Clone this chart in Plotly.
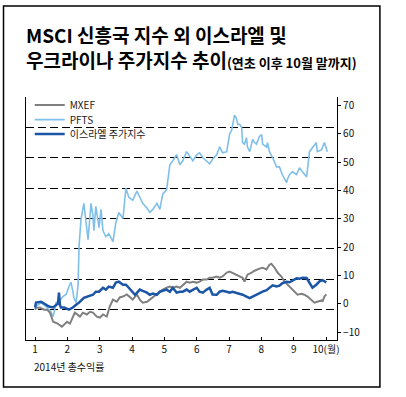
import plotly.graph_objects as go

# ---- data (x = month position, y = total return %) ----
pfts_m = [1.0, 1.03, 1.19, 1.34, 1.49, 1.56, 1.65, 1.77, 1.86, 1.96, 2.05, 2.11, 2.17, 2.20, 2.27, 2.33, 2.36, 2.42,
          2.51, 2.57, 2.64, 2.67, 2.73, 2.79, 2.82, 2.88, 2.94, 2.98, 3.04, 3.10, 3.19, 3.28, 3.41, 3.50, 3.59, 3.72,
          3.81, 3.90, 4.02, 4.12, 4.15, 4.24, 4.33, 4.46, 4.55, 4.64, 4.77, 4.86, 4.95, 5.07, 5.17, 5.26, 5.38, 5.48,
          5.57, 5.69, 5.78, 5.88, 6.00, 6.09, 6.19, 6.31, 6.40, 6.49, 6.62, 6.71, 6.80, 6.93, 7.02, 7.08, 7.17, 7.23,
          7.27, 7.33, 7.39, 7.42, 7.48, 7.54, 7.57, 7.64, 7.73, 7.79, 7.85, 7.94, 8.01, 8.04, 8.16, 8.19, 8.25, 8.35,
          8.47, 8.56, 8.65, 8.78, 8.81, 8.87, 8.96, 9.09, 9.18, 9.27, 9.40, 9.49, 9.58, 9.70, 9.73, 9.86, 9.95, 10.04]
pfts_v = [0, 1, 2.3, 1, -0.7, -2.3, 2.3, 3, 4.3, 5, 7.6, 9, 6, 4, 2.3, 8, 20.7, 29.6,
          35, 29.6, 23, 27, 35, 31, 26, 34, 30, 27, 33, 26, 24, 25, 22.4, 28.6, 32, 30,
          40, 37, 36, 38, 39, 37, 35, 33.5, 32, 33, 35, 33, 38, 39.5, 47.7, 49, 51, 47.7,
          49, 52, 50.5, 49, 51, 51.6, 50, 49, 48, 49.5, 51, 53.6, 51.6, 52, 58, 59, 64, 63,
          61, 61, 60, 55, 54.5, 56.6, 53.5, 52, 56, 55, 54.5, 57, 57.6, 54.5, 53.5, 55, 52, 50,
          47, 47, 44.4, 41.8, 43, 44.4, 45.4, 44.5, 46.7, 45.4, 43.7, 52, 53.3, 55, 52, 52.6, 55, 52]

mxef_m = [1.0, 1.03, 1.15, 1.28, 1.37, 1.46, 1.56, 1.68, 1.83, 1.99, 2.08, 2.23, 2.39, 2.48, 2.60, 2.70, 2.79, 2.91,
          3.01, 3.10, 3.22, 3.31, 3.41, 3.53, 3.62, 3.72, 3.84, 3.93, 4.02, 4.15, 4.24, 4.33, 4.46, 4.55, 4.64, 4.77,
          4.86, 4.95, 5.07, 5.17, 5.26, 5.38, 5.48, 5.57, 5.69, 5.78, 5.88, 6.00, 6.09, 6.19, 6.31, 6.40, 6.49, 6.62,
          6.71, 6.80, 6.93, 7.02, 7.11, 7.23, 7.33, 7.42, 7.48, 7.57, 7.70, 7.79, 7.94, 8.04, 8.16, 8.25, 8.31, 8.41,
          8.50, 8.62, 8.72, 8.81, 8.93, 9.02, 9.12, 9.24, 9.33, 9.43, 9.55, 9.64, 9.73, 9.86, 9.89, 9.95, 10.01]
mxef_v = [0, 0.5, 0.7, 0, 0, -1, -4, -4.5, -5.6, -4, -4.6, -1, -2.3, -1, -1.6, -0.7, -1, -2.3,
          -2.6, -1.6, -2.3, 1, 3.3, 2.6, 4, 4.3, 5, 4, 3.3, 5, 3.3, 2.3, 2.6, 3.3, 4, 5,
          5.6, 6.6, 7.2, 7.6, 7.2, 7.6, 7.2, 8.2, 9.2, 8.9, 9.2, 8.9, 9.2, 9.9, 9.9, 10.5, 10.5, 10.9,
          10.5, 10.9, 12.2, 12.5, 12, 11.5, 10.9, 10.5, 9.2, 11.5, 12.2, 12.8, 13.5, 13.8, 13.2, 14.8, 15.1, 13.8,
          12.2, 10.9, 9.2, 8.2, 7.2, 5.9, 4.9, 5.2, 4.9, 4.3, 3.3, 2.3, 2.6, 3, 2.6, 4.3, 5]

isr_m = [1.0, 1.03, 1.19, 1.28, 1.43, 1.56, 1.65, 1.71, 1.74, 1.77, 1.80, 1.90, 2.05, 2.17, 2.27, 2.36, 2.51, 2.67,
         2.79, 2.88, 2.98, 3.10, 3.19, 3.28, 3.41, 3.50, 3.59, 3.72, 3.81, 3.90, 4.02, 4.09, 4.15, 4.24, 4.33, 4.46,
         4.55, 4.64, 4.77, 4.86, 4.95, 5.07, 5.17, 5.26, 5.38, 5.48, 5.57, 5.69, 5.78, 5.88, 6.00, 6.09, 6.19, 6.31,
         6.40, 6.49, 6.62, 6.71, 6.80, 6.93, 7.02, 7.11, 7.23, 7.33, 7.42, 7.54, 7.64, 7.73, 7.85, 7.94, 8.04, 8.16,
         8.25, 8.35, 8.47, 8.56, 8.65, 8.78, 8.87, 8.96, 9.09, 9.18, 9.27, 9.40, 9.49, 9.58, 9.70, 9.80, 9.89, 10.01]
isr_v = [0.7, 2.3, 2.6, 2, 1, 0.7, 1.6, 2, 5.6, 1.5, 0.7, 0.7, 0, 0.7, 1.6, 2.3, 3.9, 4.6,
         4.9, 5.9, 5.9, 7.2, 6.6, 7.6, 7.2, 8.9, 9.2, 8.2, 8.2, 7.2, 5.9, 4.9, 5.5, 6.6, 6.2, 5.6,
         4.9, 5.3, 4.9, 5.9, 6.2, 6.6, 5.9, 7.2, 5.6, 5.9, 5.9, 6.6, 5.9, 6.6, 7.2, 5.9, 5.6, 6.6,
         7.2, 5.0, 4.9, 5.9, 6.2, 5.9, 5.6, 5.9, 5.6, 5.3, 4.9, 4.3, 3.8, 4.3, 4.9, 5.6, 5.9, 6.4,
         7.2, 8.0, 7.6, 7.9, 8.7, 9.2, 9.0, 9.5, 10.3, 10.2, 10.5, 10.4, 8.9, 7.2, 8.2, 9.3, 9.7, 9.0]

month_ticks = [1, 2, 3, 4, 5, 6, 7, 8, 9, 10]
month_labels = ["1", "2", "3", "4", "5", "6", "7", "8", "9", "10(월)"]
y_ticks = [-10, 0, 10, 20, 30, 40, 50, 60, 70]

FONT = "Noto Sans CJK KR"

fig = go.Figure()
fig.add_trace(go.Scatter(x=pfts_m, y=pfts_v, mode="lines", name="PFTS",
                         line=dict(color="#80bfe9", width=1.6), legend="legend2"))
fig.add_trace(go.Scatter(x=mxef_m, y=mxef_v, mode="lines", name="MXEF",
                         line=dict(color="#808080", width=2), legend="legend"))
fig.add_trace(go.Scatter(x=isr_m, y=isr_v, mode="lines", name="이스라엘 주가지수",
                         line=dict(color="#1a55a6", width=2.5), legend="legend3"))
# invisible helper trace for the right-hand label axis
fig.add_trace(go.Scatter(x=[None], y=[None], yaxis="y2", showlegend=False, hoverinfo="skip"))

leg_common = dict(font=dict(family=FONT, size=10, color="#222"), bgcolor="rgba(0,0,0,0)",
                  borderwidth=0, x=0.012, xanchor="left", yanchor="middle")

fig.update_layout(
    width=406, height=397,
    margin=dict(l=26, r=69, t=97, b=57),
    paper_bgcolor="white", plot_bgcolor="white",
    font=dict(family=FONT, size=11, color="#111"),
    showlegend=True,
    legend=dict(**leg_common, y=0.967),
    legend2=dict(**leg_common, y=0.907),
    legend3=dict(**leg_common, y=0.848),
    xaxis=dict(range=[0.72, 10.34], tickvals=month_ticks, ticktext=month_labels,
               ticks="inside", ticklen=3, tickcolor="black", showline=True, linecolor="black",
               linewidth=1.2, showgrid=False, zeroline=False, tickfont=dict(size=10, color="#111")),
    yaxis=dict(range=[-10, 70], tickvals=y_ticks, showticklabels=False, ticks="",
               showgrid=True, gridcolor="black", gridwidth=1, griddash="8px,4px",
               showline=True, linecolor="black", linewidth=1.2, zeroline=False),
    yaxis2=dict(range=[-12.7, 72.9], overlaying="y", side="right", tickvals=y_ticks,
                ticks="outside", ticklen=3, tickcolor="black", showgrid=False, zeroline=False,
                showline=True, linecolor="black", linewidth=1.2,
                tickfont=dict(size=10, color="#111")),
    shapes=[dict(type="rect", xref="paper", yref="paper", x0=-0.0723, x1=1.138, y0=-0.193, y1=1.3745,
                 line=dict(color="black", width=1.5), fillcolor="rgba(0,0,0,0)", layer="below")],
    annotations=[
        dict(text="MSCI 신흥국 지수 외 이스라엘 및<br>우크라이나 주가지수 추이"
                  "<span style='font-size:13px'>(연초 이후 10월 말까지)</span>",
             xref="paper", yref="paper", x=-0.006, y=1.206, align="left",
             xanchor="left", yanchor="middle", showarrow=False,
             font=dict(family=FONT, size=19, color="black", weight="bold")),
        dict(text="2014년 총수익률", xref="paper", yref="paper", x=0.018, y=-0.111,
             xanchor="left", yanchor="middle", showarrow=False,
             font=dict(family=FONT, size=10, color="#111")),
    ],
)

fig.write_html("out.html", config={"displayModeBar": False},
               post_script="document.body.style.margin='0px';document.body.style.padding='0px';")
